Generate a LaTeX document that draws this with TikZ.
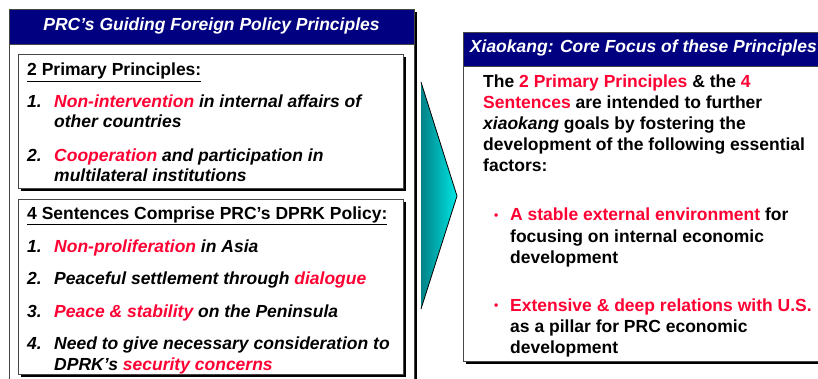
\documentclass[tikz,border=0pt]{standalone}
\usepackage{fontspec}
\setmainfont{Liberation Sans}
\usetikzlibrary{positioning}
\definecolor{barnavy}{RGB}{0,0,128}
\definecolor{keyred}{RGB}{255,0,51}
\definecolor{framegray}{RGB}{70,70,70}
\definecolor{arrowteal}{RGB}{0,130,135}
\newcommand{\redtxt}[1]{\textcolor{keyred}{#1}}
\tikzstyle{panel_frame} = [draw=framegray, line width=0.8pt, fill=white]
\tikzstyle{panel_shadow} = [fill=black]
\tikzstyle{title_bar} = [fill=barnavy, draw=framegray, line width=0.8pt]
\tikzstyle{bar_text} = [text=white, font=\fontsize{17.5}{21}\selectfont\bfseries\itshape, inner sep=0pt]
\tikzstyle{item_num} = [anchor=base west, inner sep=0pt, font=\fontsize{17.5}{21}\selectfont\bfseries\itshape]
\tikzstyle{item_line} = [anchor=base west, inner sep=0pt, font=\fontsize{17.5}{21}\selectfont\bfseries\itshape]
\tikzstyle{box_title} = [anchor=base west, inner sep=0pt, font=\fontsize{17.5}{21}\selectfont\bfseries]
\tikzstyle{body_line} = [anchor=base west, inner sep=0pt, font=\fontsize{17.5}{21}\selectfont\bfseries]
\tikzstyle{bullet_dot} = [anchor=base west, inner sep=0pt, text=keyred, font=\fontsize{12}{14}\selectfont\bfseries]

\begin{document}
\begin{tikzpicture}[x=1pt, y=-1pt]
\path[use as bounding box, clip] (0,0) rectangle (818,379);

% left panel with the principles
\fill[panel_shadow] (12,12) rectangle (417,395);
\draw[panel_frame] (9,9) rectangle (414,392);
\draw[title_bar] (9,9) rectangle (414,44);
\node (lefttitle) [bar_text, anchor=base] at (211.5,31) {PRC’s Guiding Foreign Policy Principles};

\fill[panel_shadow] (21,57) rectangle (406,191);
\draw[panel_frame] (18,54) rectangle (403,188);
\node (primtitle) [box_title] at (27,76) {\underline{2 Primary Principles:}};
\node (prim1n) [item_num] at (27,108) {1.};
\node (prim1a) [item_line] at (54,108) {\redtxt{Non-intervention} in internal affairs of};
\node (prim1b) [item_line] at (54,128) {other countries};
\node (prim2n) [item_num] at (27,162) {2.};
\node (prim2a) [item_line] at (54,162) {\redtxt{Cooperation} and participation in};
\node (prim2b) [item_line] at (54,182) {multilateral institutions};

\fill[panel_shadow] (21,202) rectangle (406,377);
\draw[panel_frame] (18,199) rectangle (403,374);
\node (senttitle) [box_title] at (27,219) {\underline{4 Sentences Comprise PRC’s DPRK Policy:}};
\node (sent1n) [item_num] at (27,252) {1.};
\node (sent1a) [item_line] at (54,252) {\redtxt{Non-proliferation} in Asia};
\node (sent2n) [item_num] at (27,284) {2.};
\node (sent2a) [item_line] at (54,284) {Peaceful settlement through \redtxt{dialogue}};
\node (sent3n) [item_num] at (27,317) {3.};
\node (sent3a) [item_line] at (54,317) {\redtxt{Peace \& stability} on the Peninsula};
\node (sent4n) [item_num] at (27,349) {4.};
\node (sent4a) [item_line] at (54,349) {Need to give necessary consideration to};
\node (sent4b) [item_line] at (54,370) {DPRK’s \redtxt{security concerns}};

% chevron between the panels
\shade[left color=arrowteal, middle color=cyan, right color=cyan!80!teal] (421,82) -- (457,196) -- (421,309) -- cycle;
\draw[black, line width=0.8pt] (421,82) -- (457,196) -- (421,309);

% right panel on xiaokang
\fill[panel_shadow] (466,35) rectangle (840,364);
\draw[panel_frame] (463,32) rectangle (837,361);
\draw[title_bar] (463,32) rectangle (837,66);
\node (righttitle) [bar_text, anchor=base east] at (817,53) {Xiaokang: Core Focus of these Principles};

\node (intro1) [body_line] at (483,88) {The \redtxt{2 Primary Principles} \& the \redtxt{4}};
\node (intro2) [body_line] at (483,109) {\redtxt{Sentences} are intended to further};
\node (intro3) [body_line] at (483,130) {\textit{xiaokang} goals by fostering the};
\node (intro4) [body_line] at (483,151) {development of the following essential};
\node (intro5) [body_line] at (483,172) {factors:};

\node (dot1) [bullet_dot] at (494,219) {•};
\node (fact1a) [body_line] at (510,221) {\redtxt{A stable external environment} for};
\node (fact1b) [body_line] at (510,242) {focusing on internal economic};
\node (fact1c) [body_line] at (510,263) {development};
\node (dot2) [bullet_dot] at (494,309) {•};
\node (fact2a) [body_line] at (510,311) {\redtxt{Extensive \& deep relations with U.S.}};
\node (fact2b) [body_line] at (510,332) {as a pillar for PRC economic};
\node (fact2c) [body_line] at (510,353) {development};
\end{tikzpicture}
\end{document}
